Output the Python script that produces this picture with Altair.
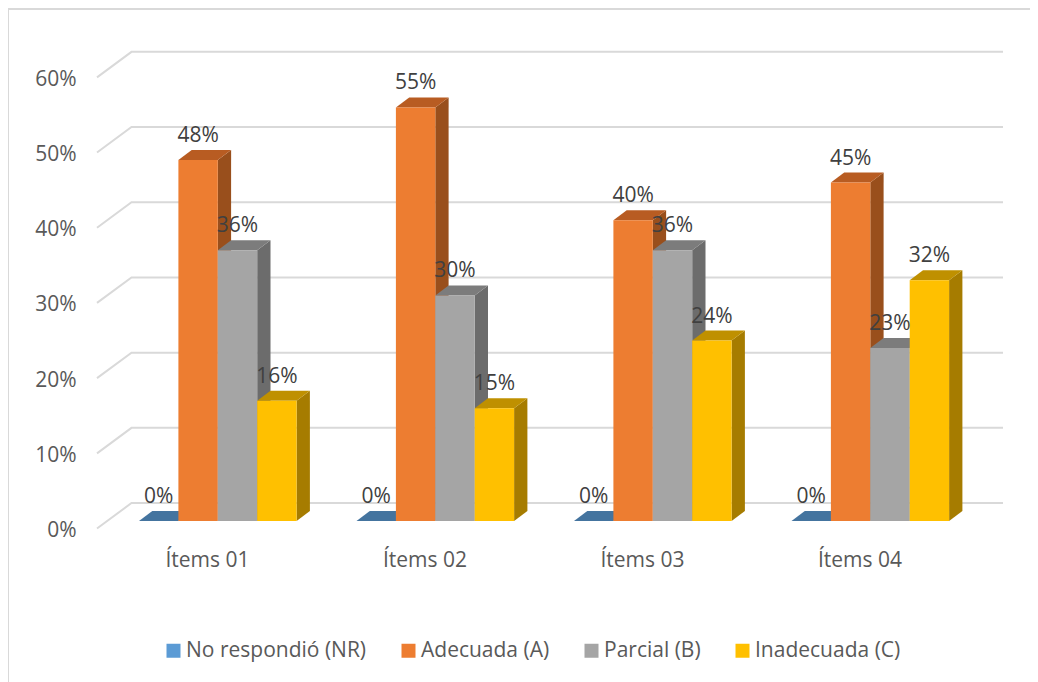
import altair as alt
import pandas as pd

categories = ["Ítems 01", "Ítems 02", "Ítems 03", "Ítems 04"]
series = ["No respondió (NR)", "Adecuada (A)", "Parcial (B)", "Inadecuada (C)"]
nr = [0, 0, 0, 0]
adecuada = [48, 55, 40, 45]
parcial = [36, 30, 36, 23]
inadecuada = [16, 15, 24, 32]
ticks = [0, 10, 20, 30, 40, 50, 60]
values = [nr, adecuada, parcial, inadecuada]

front = ["#5B9BD5", "#ED7D31", "#A5A5A5", "#FFC000"]
top = ["#44749F", "#B85C22", "#7C7C7C", "#BF9000"]
side = ["#366089", "#994F1C", "#6C6C6C", "#A67C00"]

FONT = "Open Sans"
PX = 7.52           # pixels per percentage point
DX, DY = 13.3, 10 / PX   # bar depth
G0, GSTEP, W = 139, 217.5, 39.4
xs = alt.Scale(domain=[8, 1030], range=[0, 1022], nice=False, zero=False)
ys = alt.Scale(domain=[-21.41, 68.22], nice=False, zero=False)
y_axis = alt.Axis(values=ticks, labelExpr="datum.value + '%'", domain=False, ticks=False,
                  grid=False, offset=-68, labelPadding=0, labelOffset=9.5, title=None,
                  labelFont=FONT, labelFontSize=21, labelColor="#595959")
X = lambda f: alt.X(f, type="quantitative", scale=xs, axis=None)
Y = lambda f: alt.Y(f, type="quantitative", scale=ys, axis=y_axis, title=None)

# back wall + floor gridlines
grid = []
for t in ticks:
    for px, off in [(97, -1.0), (131.5, 2.39), (1003, 2.39)]:
        grid.append({"t": t, "px": px, "v": t + off})
grid_layer = alt.Chart(pd.DataFrame(grid)).mark_line(color="#D9D9D9", strokeWidth=2).encode(
    x=X("px"), y=Y("v"), detail="t:N",
)

# chart frame (top and left edges)
frame = pd.DataFrame({"a": [8], "b": [1030], "c": [68.1], "d": [-21.41]})
frame_top = alt.Chart(frame).mark_rule(color="#D9D9D9", strokeWidth=2).encode(x=X("a"), x2="b", y=Y("c"))
frame_left = alt.Chart(frame).mark_rule(color="#D9D9D9", strokeWidth=2).encode(x=X("a"), y=Y("c"), y2="d")

layers = [grid_layer, frame_top, frame_left]
labels = []
for s, name in enumerate(series):
    rows_top, rows_side, rows_front = [], [], []
    for g, v in enumerate(values[s]):
        x0 = G0 + GSTEP * g + W * s
        for px, lo, hi in [(x0, v, v), (x0 + DX, v, v + DY), (x0 + W, v, v + DY), (x0 + W + DX, v + DY, v + DY)]:
            rows_top.append({"g": g, "px": px, "lo": lo, "hi": hi})
        for px, lo, hi in [(x0 + W, 0, v), (x0 + W + DX, DY, v + DY)]:
            rows_side.append({"g": g, "px": px, "lo": lo, "hi": hi})
        rows_front.append({"a": x0, "b": x0 + W, "v": v, "z": 0, "s": name})
        labels.append({"px": x0 + W / 2, "v": v, "t": f"{v}%"})
    layers.append(alt.Chart(pd.DataFrame(rows_side)).mark_area(color=side[s], orient="vertical").encode(
        x=X("px"), y=Y("lo"), y2="hi", detail="g:N"))
    layers.append(alt.Chart(pd.DataFrame(rows_top)).mark_area(color=top[s], orient="vertical").encode(
        x=X("px"), y=Y("lo"), y2="hi", detail="g:N"))
    layers.append(alt.Chart(pd.DataFrame(rows_front)).mark_rect().encode(
        x=X("a"), x2="b", y=Y("v"), y2="z",
        color=alt.Color("s:N", scale=alt.Scale(domain=series, range=front),
                        legend=alt.Legend(orient="none", legendX=155, legendY=632, direction="horizontal",
                                          columns=4, title=None, symbolType="square", symbolSize=196,
                                          symbolStrokeWidth=0, labelFont=FONT, labelFontSize=21,
                                          labelColor="#595959", columnPadding=31, labelOffset=2,
                                          labelLimit=300, symbolOpacity=1)),
    ))

label_layer = alt.Chart(pd.DataFrame(labels)).mark_text(
    font=FONT, fontSize=21, color="#404040", dy=-24, baseline="middle", align="center"
).encode(x=X("px"), y=Y("v"), text="t:N")

cats = pd.DataFrame({"c": categories, "px": [G0 + GSTEP * i + 68.5 for i in range(4)], "v": [-5.35] * 4})
cat_layer = alt.Chart(cats).mark_text(
    font=FONT, fontSize=21, color="#595959", baseline="middle", align="center"
).encode(x=X("px"), y=Y("v"), text="c:N")

chart = alt.layer(*layers, label_layer, cat_layer).properties(
    width=1022, height=674, padding=0, autosize=alt.AutoSizeParams(type="none"), background="white"
).configure_view(stroke=None)

chart.save("out.html", embed_options={"renderer": "svg", "actions": False})
